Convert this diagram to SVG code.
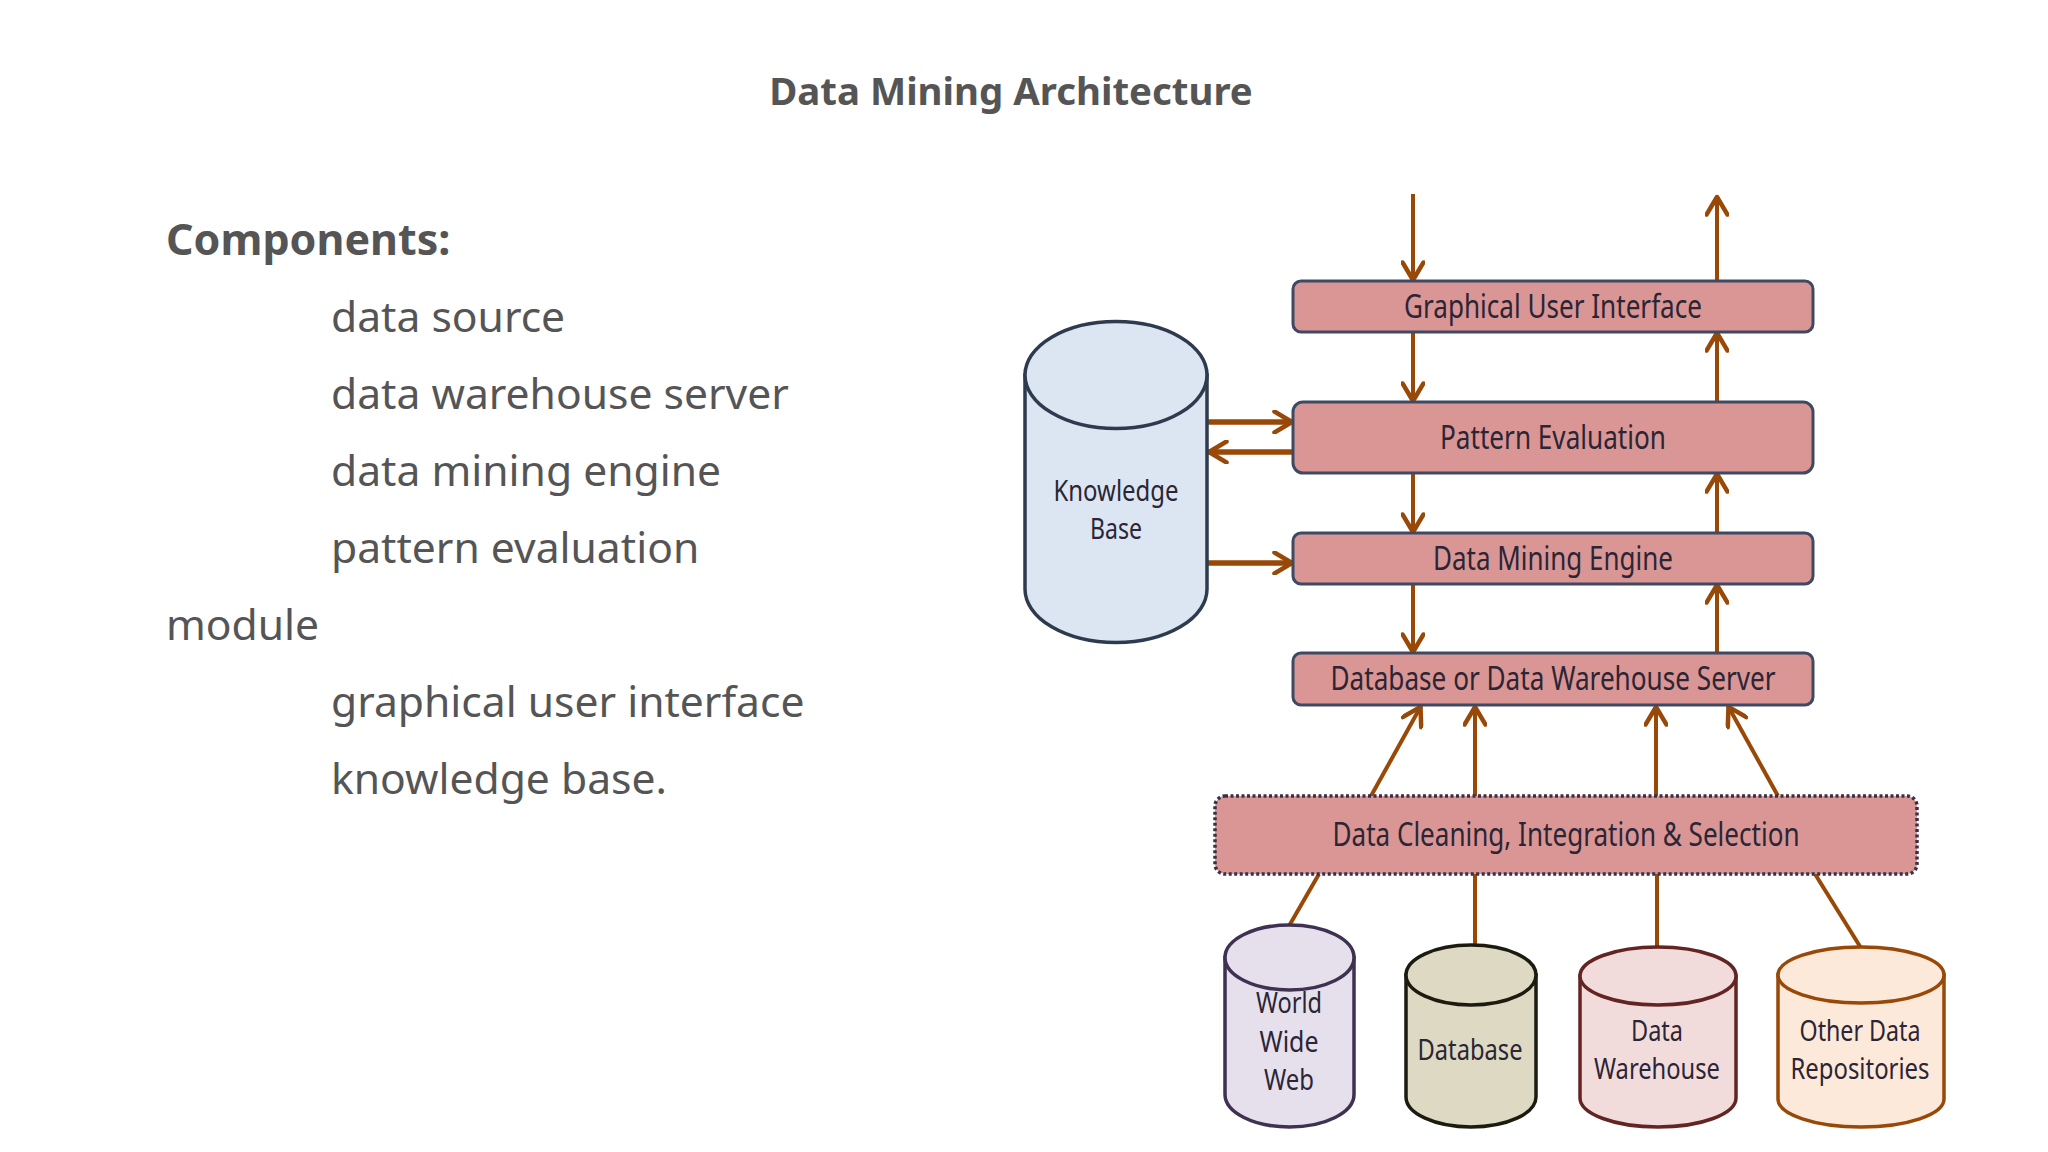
<svg xmlns="http://www.w3.org/2000/svg" width="2048" height="1152" viewBox="0 0 2048 1152">
<style>
.title{font-family:"Noto Sans","Open Sans",sans-serif;font-weight:700;font-size:38.4px;fill:#555555}
.head{font-family:"Noto Sans","Open Sans",sans-serif;font-weight:700;font-size:43px;fill:#555555}
.item{font-family:"Noto Sans","Open Sans",sans-serif;font-size:42.6px;fill:#555555}
.box{fill:#D99694;stroke:#3E4A63;stroke-width:3}
.dotbox{fill:#D99694;stroke:#3A3045;stroke-width:3.5;stroke-dasharray:3 2.5}
.lbl{font-family:"Noto Sans","Open Sans",sans-serif;font-size:32px;fill:#2B2535;text-anchor:middle}
.src{font-family:"Noto Sans","Open Sans",sans-serif;font-size:29px;fill:#2B2535;text-anchor:middle}
.arr{stroke:#984807;stroke-width:4;fill:none}
.arrh{stroke:#984807;stroke-width:5.5;fill:none}
</style>
<defs>
<marker id="ah" viewBox="0 0 24 24" refX="21.5" refY="12" markerWidth="24" markerHeight="24" markerUnits="userSpaceOnUse" orient="auto">
<path d="M3,1.5 L20.5,12 L3,22.5" fill="none" stroke="#984807" stroke-width="4.5" stroke-linecap="round" stroke-linejoin="round"/>
</marker>
</defs>
<rect width="2048" height="1152" fill="#ffffff"/>
<text class="title" x="1011" y="105" text-anchor="middle">Data Mining Architecture</text>
<g id="components-text">
<text class="head" x="166" y="255">Components:</text>
<text class="item" x="331" y="332">data source</text>
<text class="item" x="331" y="409">data warehouse server</text>
<text class="item" x="331" y="486">data mining engine</text>
<text class="item" x="331" y="563">pattern evaluation</text>
<text class="item" x="166" y="640">module</text>
<text class="item" x="331" y="717">graphical user interface</text>
<text class="item" x="331" y="794">knowledge base.</text>
</g>
<g id="connectors">
<line class="arr" x1="1413" y1="194" x2="1413" y2="281" marker-end="url(#ah)"/>
<line class="arr" x1="1717" y1="281" x2="1717" y2="196" marker-end="url(#ah)"/>
<line class="arr" x1="1413" y1="332" x2="1413" y2="402" marker-end="url(#ah)"/>
<line class="arr" x1="1717" y1="402" x2="1717" y2="332" marker-end="url(#ah)"/>
<line class="arr" x1="1413" y1="473" x2="1413" y2="533" marker-end="url(#ah)"/>
<line class="arr" x1="1717" y1="533" x2="1717" y2="473" marker-end="url(#ah)"/>
<line class="arr" x1="1413" y1="584" x2="1413" y2="653" marker-end="url(#ah)"/>
<line class="arr" x1="1717" y1="653" x2="1717" y2="584" marker-end="url(#ah)"/>
<line class="arrh" x1="1208" y1="422" x2="1293" y2="422" marker-end="url(#ah)"/>
<line class="arrh" x1="1292" y1="452" x2="1208" y2="452" marker-end="url(#ah)"/>
<line class="arrh" x1="1208" y1="563" x2="1293" y2="563" marker-end="url(#ah)"/>
<line class="arr" x1="1371" y1="796" x2="1421" y2="706" marker-end="url(#ah)"/>
<line class="arr" x1="1475" y1="796" x2="1475" y2="706" marker-end="url(#ah)"/>
<line class="arr" x1="1656" y1="796" x2="1656" y2="706" marker-end="url(#ah)"/>
<line class="arr" x1="1778" y1="796" x2="1728" y2="706" marker-end="url(#ah)"/>
<line class="arr" x1="1289" y1="926" x2="1319" y2="874"/>
<line class="arr" x1="1475" y1="946" x2="1475" y2="874"/>
<line class="arr" x1="1657" y1="948" x2="1657" y2="874"/>
<line class="arr" x1="1861" y1="948" x2="1815" y2="874"/>
</g>
<g id="gui">
<rect class="box" x="1293" y="281" width="520" height="51" rx="8"/>
<text class="lbl" x="1553" y="318" textLength="298" lengthAdjust="spacingAndGlyphs">Graphical User Interface</text>
</g>
<g id="pattern-evaluation">
<rect class="box" x="1293" y="402" width="520" height="71" rx="10"/>
<text class="lbl" x="1553" y="449" textLength="226" lengthAdjust="spacingAndGlyphs">Pattern Evaluation</text>
</g>
<g id="data-mining-engine">
<rect class="box" x="1293" y="533" width="520" height="51" rx="8"/>
<text class="lbl" x="1553" y="570" textLength="240" lengthAdjust="spacingAndGlyphs">Data Mining Engine</text>
</g>
<g id="db-server">
<rect class="box" x="1293" y="653" width="520" height="52" rx="8"/>
<text class="lbl" x="1553" y="690" textLength="445" lengthAdjust="spacingAndGlyphs">Database or Data Warehouse Server</text>
</g>
<g id="cleaning">
<rect class="dotbox" x="1215" y="796" width="702" height="78" rx="10"/>
<text class="lbl" x="1566" y="846" textLength="467" lengthAdjust="spacingAndGlyphs">Data Cleaning, Integration &amp; Selection</text>
</g>
<g id="knowledge-base">
<path d="M1025,375 L1025,589 A91,53.5 0 0 0 1207,589 L1207,375 Z" fill="#DCE6F2" stroke="#2E3B4E" stroke-width="3.5"/>
<ellipse cx="1116" cy="375" rx="91" ry="53.5" fill="#DCE6F2" stroke="#2E3B4E" stroke-width="3.5"/>
<text class="src" x="1116" y="501" font-size="28" textLength="125" lengthAdjust="spacingAndGlyphs">Knowledge</text>
<text class="src" x="1116" y="539" font-size="28" textLength="52" lengthAdjust="spacingAndGlyphs">Base</text>
</g>
<g id="www">
<path d="M1225,957.5 L1225,1094.5 A64.5,32.5 0 0 0 1354,1094.5 L1354,957.5 Z" fill="#E6E0EC" stroke="#3F3151" stroke-width="3.5"/>
<ellipse cx="1289.5" cy="957.5" rx="64.5" ry="32.5" fill="#E6E0EC" stroke="#3F3151" stroke-width="3.5"/>
<text class="src" x="1289" y="1013" textLength="66" lengthAdjust="spacingAndGlyphs">World</text>
<text class="src" x="1289" y="1052" textLength="59" lengthAdjust="spacingAndGlyphs">Wide</text>
<text class="src" x="1289" y="1090" textLength="50" lengthAdjust="spacingAndGlyphs">Web</text>
</g>
<g id="database">
<path d="M1406,975 L1406,1097 A65,30 0 0 0 1536,1097 L1536,975 Z" fill="#DDD9C3" stroke="#1D1B10" stroke-width="3.5"/>
<ellipse cx="1471" cy="975" rx="65" ry="30" fill="#DDD9C3" stroke="#1D1B10" stroke-width="3.5"/>
<text class="src" x="1470" y="1060" textLength="105" lengthAdjust="spacingAndGlyphs">Database</text>
</g>
<g id="data-warehouse">
<path d="M1580,976 L1580,1098 A78,29 0 0 0 1736,1098 L1736,976 Z" fill="#F2DCDB" stroke="#632523" stroke-width="3.5"/>
<ellipse cx="1658" cy="976" rx="78" ry="29" fill="#F2DCDB" stroke="#632523" stroke-width="3.5"/>
<text class="src" x="1657" y="1041" textLength="52" lengthAdjust="spacingAndGlyphs">Data</text>
<text class="src" x="1657" y="1079" textLength="126" lengthAdjust="spacingAndGlyphs">Warehouse</text>
</g>
<g id="other-repositories">
<path d="M1778,975 L1778,1099 A83,28 0 0 0 1944,1099 L1944,975 Z" fill="#FDE9D9" stroke="#984807" stroke-width="3.5"/>
<ellipse cx="1861" cy="975" rx="83" ry="28" fill="#FDE9D9" stroke="#984807" stroke-width="3.5"/>
<text class="src" x="1860" y="1041" textLength="121" lengthAdjust="spacingAndGlyphs">Other Data</text>
<text class="src" x="1860" y="1079" textLength="139" lengthAdjust="spacingAndGlyphs">Repositories</text>
</g>
</svg>
